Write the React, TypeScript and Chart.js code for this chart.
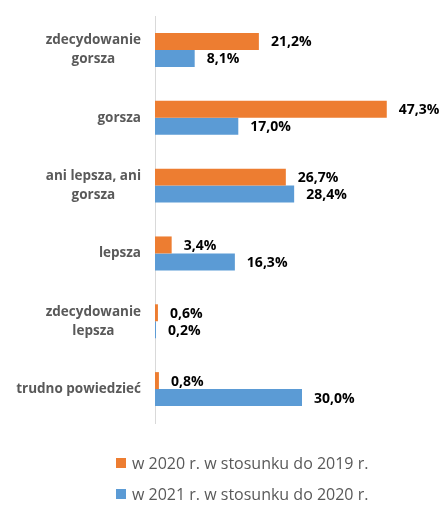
import React, { useEffect, useRef } from "react";
import { Chart, registerables } from "chart.js";

Chart.register(...registerables);

const categories: string[][] = [
  ["zdecydowanie", "gorsza"],
  ["gorsza"],
  ["ani lepsza, ani", "gorsza"],
  ["lepsza"],
  ["zdecydowanie", "lepsza"],
  ["trudno powiedzieć"],
];
const series2020: number[] = [21.2, 47.3, 26.7, 3.4, 0.6, 0.8];
const series2021: number[] = [8.1, 17.0, 28.4, 16.3, 0.2, 30.0];
const seriesLabels: string[] = [
  "w 2020 r. w stosunku do 2019 r.",
  "w 2021 r. w stosunku do 2020 r.",
];
const colors: string[] = ["#ED7D31", "#5B9BD5"];

const FONT = "'Open Sans', 'DejaVu Sans', sans-serif";

const labelsPlugin = {
  id: "customLabels",
  afterDatasetsDraw(chart: any) {
    const ctx = chart.ctx;
    const yScale = chart.scales.y;
    const area = chart.chartArea;
    ctx.save();
    // category labels: block right-aligned, lines centred within block
    ctx.font = `bold 13.5px ${FONT}`;
    ctx.fillStyle = "#595959";
    ctx.textBaseline = "middle";
    ctx.textAlign = "center";
    const lineH = 19;
    categories.forEach((lines, i) => {
      const yc = yScale.getPixelForValue(i);
      const w = Math.max(...lines.map((l) => ctx.measureText(l).width));
      const right = area.left - 14;
      const cx = right - w / 2;
      const y0 = yc - ((lines.length - 1) * lineH) / 2;
      lines.forEach((l, j) => ctx.fillText(l, cx, y0 + j * lineH));
    });
    // value labels
    ctx.font = `bold 14px ${FONT}`;
    ctx.fillStyle = "#000";
    ctx.textAlign = "left";
    chart.data.datasets.forEach((ds: any, di: number) => {
      const meta = chart.getDatasetMeta(di);
      meta.data.forEach((bar: any, i: number) => {
        const v = ds.data[i];
        const txt = v.toFixed(1).replace(".", ",") + "%";
        ctx.fillText(txt, bar.x + 12, bar.y + 1);
      });
    });
    // legend
    ctx.font = `16px ${FONT}`;
    ctx.fillStyle = "#595959";
    const legendY = [463, 494];
    seriesLabels.forEach((lab, i) => {
      ctx.fillStyle = colors[i];
      ctx.fillRect(116, legendY[i] - 5, 10, 10);
      ctx.fillStyle = "#595959";
      ctx.fillText(lab, 132, legendY[i] + 1);
    });
    ctx.restore();
  },
};

export default function App() {
  const ref = useRef<HTMLCanvasElement | null>(null);
  useEffect(() => {
    document.body.style.margin = "0";
    if (!ref.current) return;
    const chart = new Chart(ref.current, {
      type: "bar",
      data: {
        labels: categories.map((c) => c.join(" ")),
        datasets: [
          {
            label: seriesLabels[0],
            data: series2020,
            backgroundColor: colors[0],
            categoryPercentage: 0.5,
            barPercentage: 1.0,
          },
          {
            label: seriesLabels[1],
            data: series2021,
            backgroundColor: colors[1],
            categoryPercentage: 0.5,
            barPercentage: 1.0,
          },
        ],
      },
      options: {
        indexAxis: "y",
        animation: false,
        responsive: false,
        layout: { padding: { left: 0, right: 42, top: 16, bottom: 82 } },
        scales: {
          x: {
            display: false,
            min: 0,
            max: 50,
          },
          y: {
            display: true,
            ticks: { display: false },
            grid: { display: false },
            border: { display: true, color: "#d9d9d9", width: 1 },
            afterFit: (scale: any) => {
              scale.width = 155;
            },
          },
        },
        plugins: {
          tooltip: { enabled: false },
          legend: { display: false },
        },
      },
      plugins: [labelsPlugin],
    });
    return () => chart.destroy();
  }, []);
  return (
    <div style={{ width: 442, height: 505, background: "#fff" }}>
      <canvas ref={ref} width={442} height={505} />
    </div>
  );
}
